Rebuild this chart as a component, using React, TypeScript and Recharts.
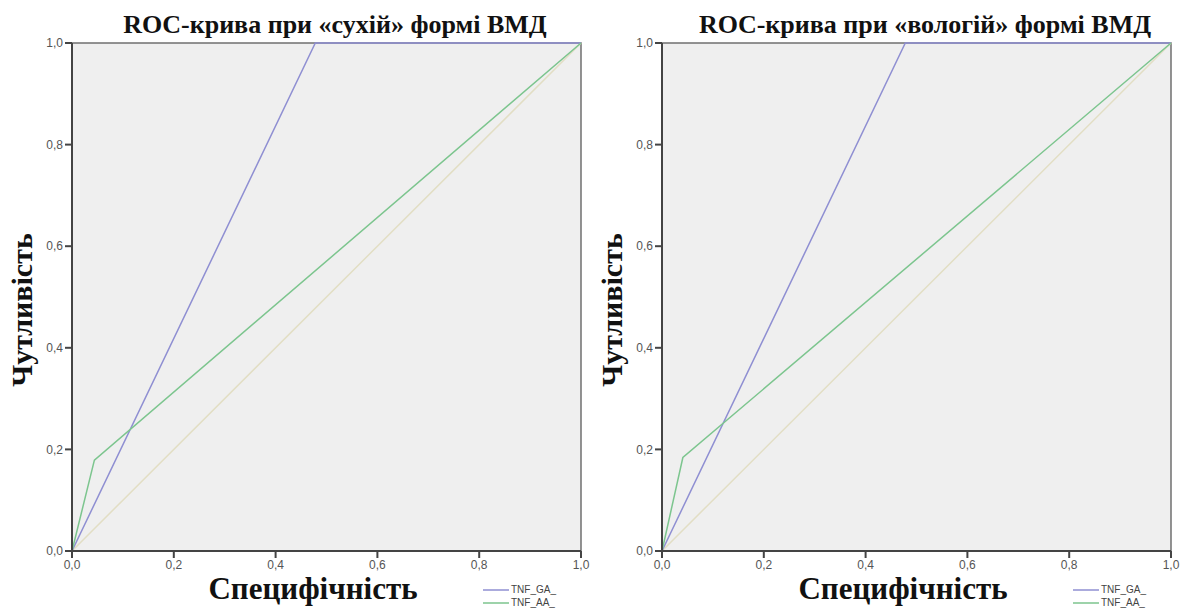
import React from 'react';
import { LineChart, Line, XAxis, YAxis, ReferenceArea, Legend } from 'recharts';

// axis ticks shared by both panels
const TICKS = [0, 0.2, 0.4, 0.6, 0.8, 1.0];

// "dry" form ROC points: 1 - specificity / sensitivity
const DRY_GA_X = [0, 0.478, 1];
const DRY_GA_Y = [0, 1, 1];
const DRY_AA_X = [0, 0.044, 1];
const DRY_AA_Y = [0, 0.179, 1];

// "wet" form ROC points
const WET_GA_X = [0, 0.478, 1];
const WET_GA_Y = [0, 1, 1];
const WET_AA_X = [0, 0.041, 1];
const WET_AA_Y = [0, 0.184, 1];

// reference diagonal
const DIAG = [0, 1];

const SERIES_ORDER = ['TNF_GA_', 'TNF_AA_'];

const GA_COLOR = '#8f8fd2';
const AA_COLOR = '#7cc58e';
const DIAG_COLOR = '#e2dec4';
const SERIF = '"Liberation Serif", "Times New Roman", serif';
const SANS = '"Liberation Sans", Arial, sans-serif';

const toPoints = (xs: number[], ys: number[]) => xs.map((x, i) => ({ x, y: ys[i] }));

const fmt = (v: number) => v.toFixed(1).replace('.', ',');

const LegendBox = (props: any) => {
  const items = (props.payload || [])
    .filter((p: any) => p.type !== 'none')
    .sort((a: any, b: any) => SERIES_ORDER.indexOf(a.value) - SERIES_ORDER.indexOf(b.value));
  return (
    <div style={{ fontFamily: SANS, fontSize: 10, color: '#444', lineHeight: '13px' }}>
      {items.map((p: any) => (
        <div key={p.value} style={{ display: 'flex', alignItems: 'center' }}>
          <svg width={28} height={13}>
            <line x1={0} y1={7} x2={26} y2={7} stroke={p.color} strokeWidth={1.5} />
          </svg>
          <span>{p.value}</span>
        </div>
      ))}
    </div>
  );
};

interface PanelProps {
  title: string;
  ga: { x: number; y: number }[];
  aa: { x: number; y: number }[];
}

const RocPanel = ({ title, ga, aa }: PanelProps) => {
  const diag = toPoints(DIAG, DIAG);
  return (
    <div style={{ position: 'relative', width: 590, height: 614 }}>
      <div
        style={{
          position: 'absolute', top: 10, left: 90, width: 490, textAlign: 'center',
          fontFamily: SERIF, fontWeight: 'bold', fontSize: 26, lineHeight: '30px', color: '#111',
        }}
      >
        {title}
      </div>
      <div
        style={{
          position: 'absolute', left: 22, top: 310, transform: 'translate(-50%, -50%) rotate(-90deg)',
          fontFamily: SERIF, fontWeight: 'bold', fontSize: 30, whiteSpace: 'nowrap', color: '#111',
        }}
      >
        Чутливість
      </div>
      <div
        style={{
          position: 'absolute', top: 572, left: 113, width: 400, textAlign: 'center',
          fontFamily: SERIF, fontWeight: 'bold', fontSize: 31, lineHeight: '34px', color: '#111',
        }}
      >
        Специфічність
      </div>
      <LineChart width={590} height={614} margin={{ top: 43, right: 9, bottom: 33, left: 32 }}>
        <ReferenceArea x1={0} x2={1} y1={0} y2={1} fill="#efefef" fillOpacity={1} stroke="#707070" strokeWidth={1.5} />
        <XAxis
          type="number" dataKey="x" domain={[0, 1]} ticks={TICKS} tickFormatter={fmt}
          height={30} tickSize={7} stroke="#444" strokeWidth={2}
          tick={{ fill: '#555', fontSize: 12, fontFamily: SANS }}
        />
        <YAxis
          type="number" dataKey="y" domain={[0, 1]} ticks={TICKS} tickFormatter={fmt}
          width={40} tickSize={7} stroke="#444" strokeWidth={2}
          tick={{ fill: '#555', fontSize: 12, fontFamily: SANS }}
        />
        <Line data={diag} dataKey="y" stroke={DIAG_COLOR} strokeWidth={1.5} dot={false} legendType="none" isAnimationActive={false} />
        <Line data={ga} dataKey="y" name="TNF_GA_" stroke={GA_COLOR} strokeWidth={1.5} dot={false} legendType="plainline" isAnimationActive={false} />
        <Line data={aa} dataKey="y" name="TNF_AA_" stroke={AA_COLOR} strokeWidth={1.5} dot={false} legendType="plainline" isAnimationActive={false} />
        {/* vertical + middle keeps the legend from shrinking the plot area */}
        <Legend
          layout="vertical"
          align="center"
          verticalAlign="middle"
          content={LegendBox}
          wrapperStyle={{ position: 'absolute', left: 483, top: 583, width: 80, bottom: 'auto', right: 'auto' }}
        />
      </LineChart>
    </div>
  );
};

export default function App() {
  return (
    <div style={{ position: 'absolute', left: 0, top: 0, width: 1181, height: 614, background: '#fff', display: 'flex' }}>
      <RocPanel title="ROC-крива при «сухій» формі ВМД" ga={toPoints(DRY_GA_X, DRY_GA_Y)} aa={toPoints(DRY_AA_X, DRY_AA_Y)} />
      <RocPanel title="ROC-крива при «вологій» формі ВМД" ga={toPoints(WET_GA_X, WET_GA_Y)} aa={toPoints(WET_AA_X, WET_AA_Y)} />
    </div>
  );
}
